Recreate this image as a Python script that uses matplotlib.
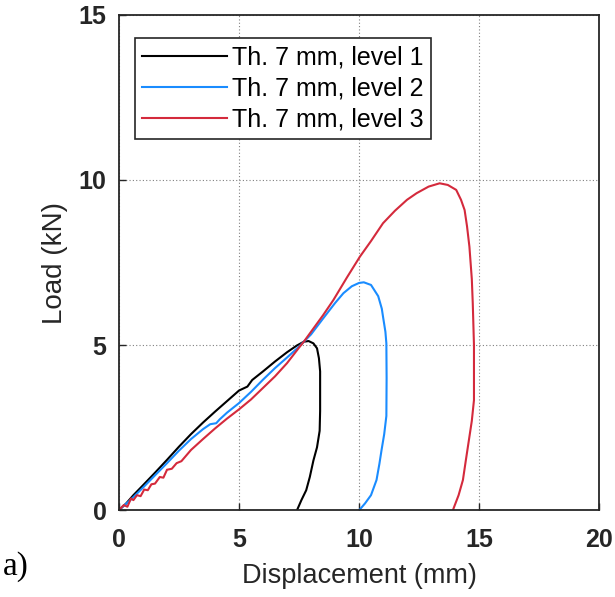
import matplotlib
matplotlib.use("Agg")
import matplotlib.pyplot as plt

# Load-displacement curves (mm, kN)
disp_l1 = [0, 0.3, 0.6, 1.0, 1.5, 2.0, 2.5, 3.0, 3.5, 4.0, 4.5, 5.0, 5.35, 5.55,
           6.0, 6.5, 7.0, 7.4, 7.7, 7.9, 8.1, 8.25, 8.33, 8.38, 8.38, 8.36,
           8.25, 8.1, 7.95, 7.8, 7.6, 7.45, 7.42]
load_l1 = [0, 0.2, 0.45, 0.75, 1.13, 1.52, 1.92, 2.3, 2.65, 2.98, 3.3, 3.62, 3.74, 3.94,
           4.2, 4.5, 4.78, 4.98, 5.1, 5.12, 5.05, 4.9, 4.6, 4.2, 3.0, 2.4,
           1.9, 1.5, 1.0, 0.6, 0.3, 0.05, 0]

disp_l2 = [0, 0.5, 1.0, 1.5, 2.0, 2.5, 3.0, 3.5, 3.8, 4.05, 4.2, 4.5, 5.0, 5.5,
           6.0, 6.5, 7.0, 7.5, 7.7, 8.0, 8.5, 9.0, 9.35, 9.7, 10.0, 10.2, 10.5,
           10.8, 10.95, 11.0, 11.1, 11.14, 11.15, 11.14, 11.05, 10.94, 10.85,
           10.73, 10.5, 10.25, 10.05, 10.02]
load_l2 = [0, 0.32, 0.68, 1.05, 1.42, 1.8, 2.15, 2.45, 2.6, 2.63, 2.75, 2.95, 3.24, 3.58,
           3.95, 4.3, 4.62, 4.95, 5.1, 5.32, 5.8, 6.27, 6.57, 6.78, 6.88, 6.9, 6.82,
           6.48, 6.1, 5.86, 5.4, 5.05, 4.0, 2.85, 2.3, 1.82, 1.4,
           0.91, 0.45, 0.2, 0.03, 0]

disp_l3 = [0, 0.2, 0.35, 0.5, 0.6, 0.75, 0.9, 1.05, 1.2, 1.35, 1.5, 1.7, 1.85, 2.0,
           2.2, 2.4, 2.6, 3.0, 3.5, 4.0, 4.5, 5.0, 5.5, 6.0, 6.5, 7.0, 7.5, 7.7,
           8.0, 8.5, 8.93, 9.5, 10.04, 10.5, 11.0, 11.5, 12.0, 12.4, 12.9, 13.36,
           13.7, 14.05, 14.25, 14.4, 14.5, 14.6, 14.7, 14.74, 14.79, 14.79, 14.7,
           14.6, 14.45, 14.33, 14.15, 13.94, 13.92]
load_l3 = [0, 0.15, 0.1, 0.35, 0.3, 0.45, 0.42, 0.62, 0.6, 0.78, 0.8, 1.0, 0.98, 1.22,
           1.25, 1.42, 1.48, 1.82, 2.15, 2.47, 2.77, 3.05, 3.35, 3.7, 4.05, 4.45, 4.92, 5.1,
           5.4, 5.9, 6.36, 7.05, 7.68, 8.15, 8.69, 9.07, 9.4, 9.6, 9.8, 9.9,
           9.85, 9.7, 9.4, 9.09, 8.6, 7.98, 7.0, 6.26, 5.0, 3.33, 2.7,
           2.22, 1.5, 0.91, 0.45, 0.05, 0]

series_labels = ["Th. 7 mm, level 1", "Th. 7 mm, level 2", "Th. 7 mm, level 3"]
series_colors = ["black", "#1a8cff", "#d42a3c"]

x_ticks = [0, 5, 10, 15, 20]
y_ticks = [0, 5, 10, 15]

fig = plt.figure(figsize=(6.15, 5.97), dpi=100)
ax = fig.add_axes([0.1935, 0.1457, 0.7805, 0.8292])

for xs, ys, lab, col in zip([disp_l1, disp_l2, disp_l3],
                            [load_l1, load_l2, load_l3],
                            series_labels, series_colors):
    ax.plot(xs, ys, color=col, lw=1.5, label=lab)

ax.set_xlim(0, 20)
ax.set_ylim(0, 15)
ax.set_xticks(x_ticks)
ax.set_yticks(y_ticks)
ax.grid(True, color="#808080", linestyle=(0, (1, 2)), lw=0.8)
ax.set_axisbelow(True)
ax.tick_params(direction="in", length=5, width=1.0, color="#262626")
ax.tick_params(axis="x", pad=13)
ax.tick_params(axis="y", pad=9)
for lbl in ax.get_xticklabels() + ax.get_yticklabels():
    lbl.set_fontfamily("Liberation Sans")
    lbl.set_fontweight("bold")
    lbl.set_fontsize(18)
    lbl.set_color("#262626")
for sp in ax.spines.values():
    sp.set_color("#262626")
    sp.set_linewidth(1.3)

ax.set_xlabel("Displacement (mm)", fontsize=19.5, family="Liberation Sans",
              color="#262626", labelpad=8)
ax.set_ylabel("Load (kN)", fontsize=20, family="Liberation Sans",
              color="#262626", labelpad=8)

leg = ax.legend(loc="upper left", bbox_to_anchor=(0.033, 0.9535), frameon=True,
                fancybox=False, edgecolor="#262626", framealpha=1,
                prop={"family": "Liberation Sans", "size": 18},
                handlelength=3.4, handletextpad=0.2, labelspacing=0.28,
                borderpad=0.3, borderaxespad=0)
leg.get_frame().set_linewidth(1.2)

fig.text(0.005, 0.037, "a)", fontsize=24, family="Liberation Serif")

fig.savefig("out.png", dpi=100)
